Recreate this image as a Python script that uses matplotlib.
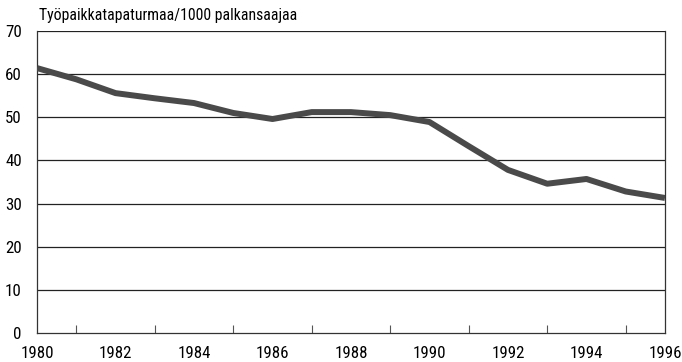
import matplotlib
matplotlib.use("Agg")
import matplotlib.pyplot as plt

years = list(range(1980, 1997))
rates = [61.4, 58.8, 55.6, 54.4, 53.3, 51.0, 49.6, 51.2, 51.2, 50.5,
         48.9, 43.3, 37.8, 34.6, 35.7, 32.8, 31.3]
y_ticks = [0, 10, 20, 30, 40, 50, 60, 70]
x_labels = [1980, 1982, 1984, 1986, 1988, 1990, 1992, 1994, 1996]
title = "Työpaikkatapaturmaa/1000 palkansaajaa"

plt.rcParams["font.family"] = ["Roboto Condensed", "DejaVu Sans"]

fig = plt.figure(figsize=(6.82, 3.62), dpi=100)
ax = fig.add_axes([0.0543, 0.0801, 0.9207, 0.8343])

ax.plot(years, rates, color="#4a4a4a", lw=4.3, solid_capstyle="butt",
        solid_joinstyle="round", zorder=3)

ax.set_xlim(1980, 1996)
ax.set_ylim(0, 70)
ax.set_yticks(y_ticks)
for v in y_ticks[1:]:
    ax.axhline(v, color="#222222", lw=0.9, zorder=1)

ax.set_xticks(x_labels)
ax.set_xticks([y for y in years if y not in x_labels], minor=True)
ax.tick_params(axis="x", which="minor", direction="in", length=6, width=0.8,
               color="#555555")
ax.tick_params(axis="x", which="major", length=0, pad=9, labelsize=12.2)
ax.tick_params(axis="y", length=0, pad=11, labelsize=12.2)

for side in ["left", "right", "bottom"]:
    ax.spines[side].set_color("#333333")
    ax.spines[side].set_linewidth(0.9)
ax.spines["top"].set_visible(False)

fig.text(0.057, 0.958, title, fontsize=11.3, ha="left", va="center")

fig.savefig("out.png", dpi=100, facecolor="white")
